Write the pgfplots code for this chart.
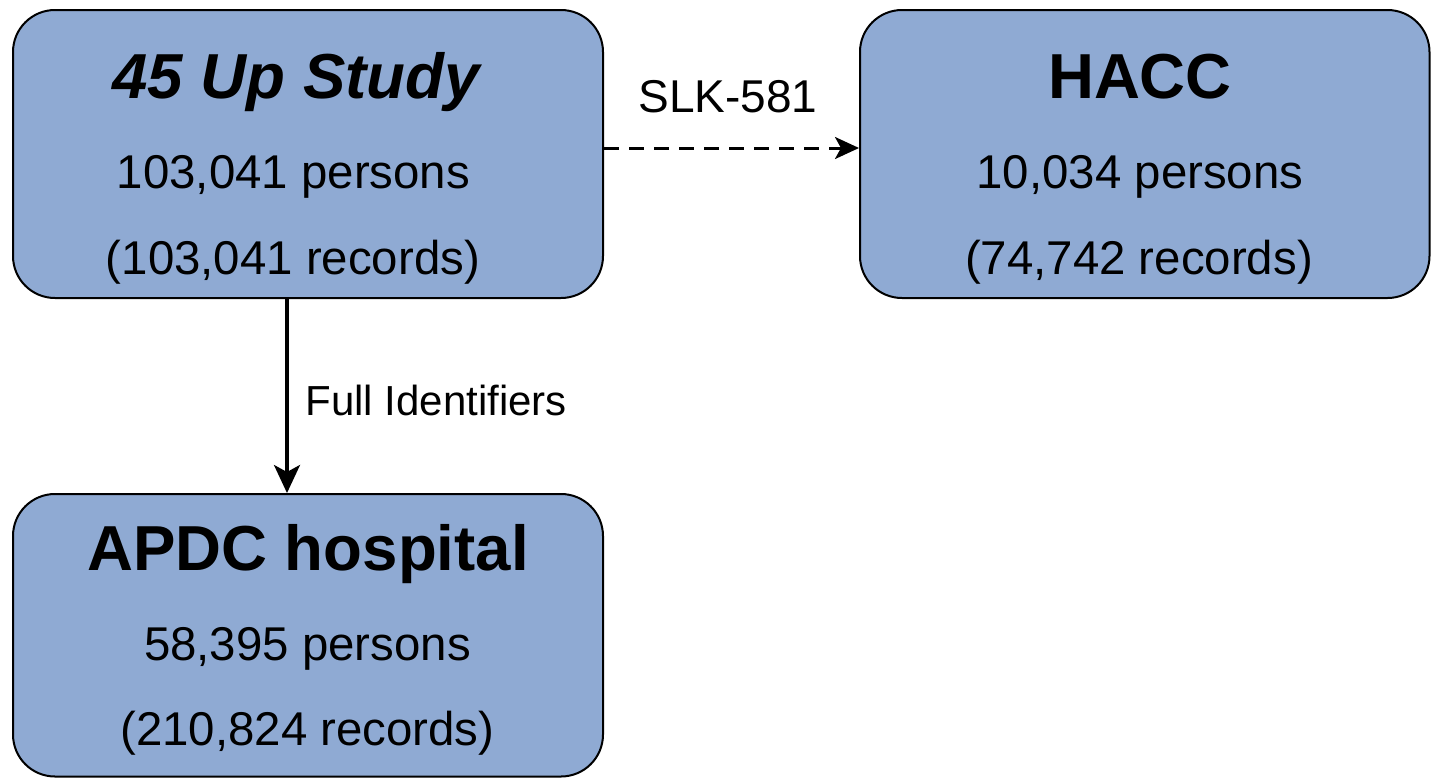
\documentclass[border=0pt]{standalone}
\usepackage{pgfplots}
\pgfplotsset{compat=1.18}
\usepackage{fontspec}
\setmainfont{Liberation Sans}
\usetikzlibrary{arrows.meta}
\definecolor{boxfill}{RGB}{143,170,211}
\begin{document}
\begin{tikzpicture}
\begin{axis}[
  width=715.5pt, height=389pt, scale only axis,
  xmin=0, xmax=1431, ymin=0, ymax=778, y dir=reverse,
  hide axis, enlargelimits=false, clip=true]
% boxes
\draw[fill=boxfill, draw=black, line width=1pt, rounded corners=21pt]
  (axis cs:13,10) rectangle (axis cs:603,298);
\draw[fill=boxfill, draw=black, line width=1pt, rounded corners=21pt]
  (axis cs:860,10) rectangle (axis cs:1429.5,298);
\draw[fill=boxfill, draw=black, line width=1pt, rounded corners=21pt]
  (axis cs:13,494) rectangle (axis cs:603,776.5);
% arrows
\draw[line width=1.5pt, dash pattern=on 7.5pt off 5pt, -{Stealth[length=12pt,width=11pt,inset=3pt]}]
  (axis cs:604,148) -- (axis cs:859,148);
\draw[line width=1.7pt, -{Stealth[length=14pt,width=13pt,inset=3.5pt]}]
  (axis cs:287,298) -- (axis cs:287,493);
% labels
\node[anchor=base, inner sep=0pt, font=\fontsize{23}{27}\selectfont] at (axis cs:728,112) {SLK-581};
\node[anchor=base west, inner sep=0pt, font=\fontsize{21}{25}\selectfont] at (axis cs:305,415) {Full Identifiers};
% box 1
\node[anchor=base, inner sep=0pt, font=\fontsize{31.8}{38}\selectfont\bfseries\itshape] at (axis cs:296,98) {45 Up Study};
\node[anchor=base, inner sep=0pt, font=\fontsize{23.7}{28}\selectfont] at (axis cs:293.5,188) {103,041 persons};
\node[anchor=base, inner sep=0pt, font=\fontsize{23.7}{28}\selectfont] at (axis cs:293,274) {(103,041 records)};
% box 2
\node[anchor=base, inner sep=0pt, font=\fontsize{31.8}{38}\selectfont\bfseries] at (axis cs:1140,98) {HACC};
\node[anchor=base, inner sep=0pt, font=\fontsize{23.7}{28}\selectfont] at (axis cs:1140,188) {10,034 persons};
\node[anchor=base, inner sep=0pt, font=\fontsize{23.7}{28}\selectfont] at (axis cs:1139,274) {(74,742 records)};
% box 3
\node[anchor=base, inner sep=0pt, font=\fontsize{31.8}{38}\selectfont\bfseries] at (axis cs:308,570) {APDC hospital};
\node[anchor=base, inner sep=0pt, font=\fontsize{23.7}{28}\selectfont] at (axis cs:307.5,660) {58,395 persons};
\node[anchor=base, inner sep=0pt, font=\fontsize{23.7}{28}\selectfont] at (axis cs:307.5,745) {(210,824 records)};
\end{axis}
\useasboundingbox (current axis.south west) rectangle (current axis.north east);
\end{tikzpicture}
\end{document}
